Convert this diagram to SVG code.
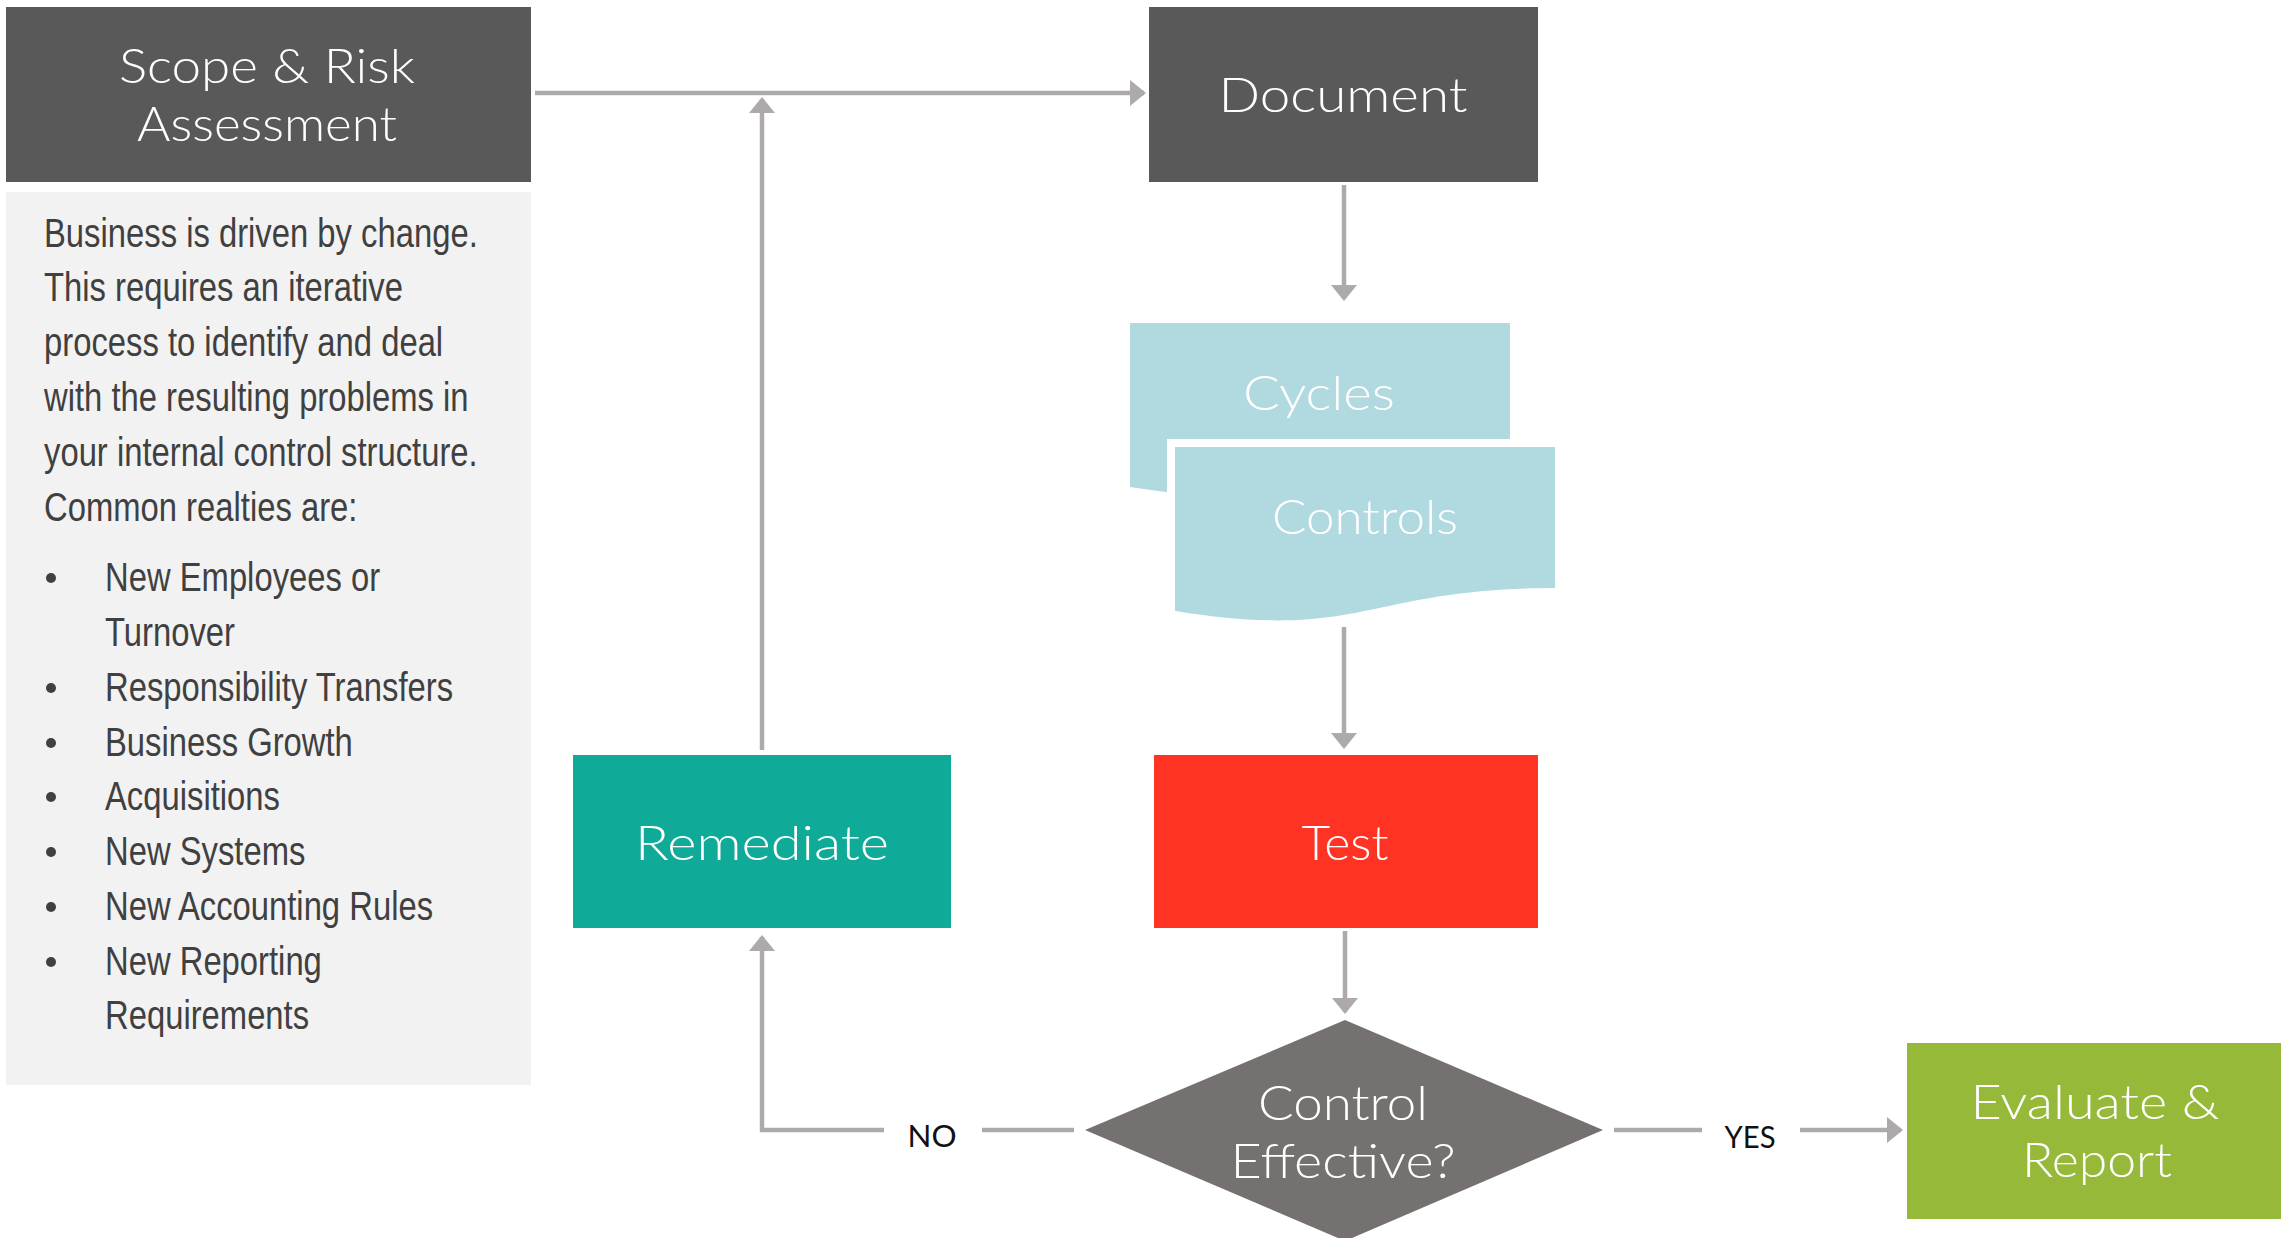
<svg xmlns="http://www.w3.org/2000/svg" width="2281" height="1238" viewBox="0 0 2281 1238">
<style>
.lbl{font-family:Lato,"Open Sans","Liberation Sans",sans-serif;font-weight:300;font-size:47px;fill:#fff;text-anchor:middle}
.dark{fill:#595959}
.con{stroke:#aeaaaa;stroke-width:4.5;fill:none}
.body{font-family:"Liberation Sans",Arial,sans-serif;font-size:40px;fill:#404040}
.yn{font-family:Lato,"Open Sans","Liberation Sans",sans-serif;font-size:30px;fill:#111;text-anchor:middle}
</style>
<defs>
<marker id="arr" markerUnits="userSpaceOnUse" markerWidth="16" markerHeight="26" refX="14" refY="13" orient="auto">
<path d="M0,0 L16,13 L0,26 Z" fill="#aeaaaa"/>
</marker>
</defs>
<rect width="2281" height="1238" fill="#fff"/>

<g id="connectors">
<path class="con" d="M535,93 H1144" marker-end="url(#arr)"/>
<path class="con" d="M762,750 V99" marker-end="url(#arr)"/>
<path class="con" d="M1344,185 V299" marker-end="url(#arr)"/>
<path class="con" d="M1344,627 V747" marker-end="url(#arr)"/>
<path class="con" d="M1345,931 V1012" marker-end="url(#arr)"/>
<path class="con" d="M1074,1130 H982"/>
<path class="con" d="M884,1130 H762 V937" marker-end="url(#arr)"/>
<path class="con" d="M1614,1130 H1702"/>
<path class="con" d="M1800,1130 H1901" marker-end="url(#arr)"/>
<text class="yn" x="932" y="1147" textLength="49" lengthAdjust="spacingAndGlyphs">NO</text>
<text class="yn" x="1750" y="1148" textLength="51" lengthAdjust="spacingAndGlyphs">YES</text>
</g>

<g id="scope">
<rect class="dark" x="6" y="7" width="525" height="175"/>
<text class="lbl" x="267" y="83" textLength="296" lengthAdjust="spacingAndGlyphs">Scope &amp; Risk</text>
<text class="lbl" x="267" y="141" textLength="260" lengthAdjust="spacingAndGlyphs">Assessment</text>
</g>

<g id="notes">
<rect x="6" y="192" width="525" height="893" fill="#f2f2f2"/>
<g transform="translate(44,0) scale(0.82,1)">
<text class="body" x="0" y="247">Business is driven by change.</text>
<text class="body" x="0" y="301">This requires an iterative</text>
<text class="body" x="0" y="356">process to identify and deal</text>
<text class="body" x="0" y="411">with the resulting problems in</text>
<text class="body" x="0" y="466">your internal control structure.</text>
<text class="body" x="0" y="521">Common realties are:</text>
</g>
<g fill="#404040">
<circle cx="51" cy="578" r="5"/>
<circle cx="51" cy="688" r="5"/>
<circle cx="51" cy="743" r="5"/>
<circle cx="51" cy="797" r="5"/>
<circle cx="51" cy="852" r="5"/>
<circle cx="51" cy="907" r="5"/>
<circle cx="51" cy="962" r="5"/>
</g>
<g transform="translate(105,0) scale(0.82,1)">
<text class="body" x="0" y="591">New Employees or</text>
<text class="body" x="0" y="646">Turnover</text>
<text class="body" x="0" y="701">Responsibility Transfers</text>
<text class="body" x="0" y="756">Business Growth</text>
<text class="body" x="0" y="810">Acquisitions</text>
<text class="body" x="0" y="865">New Systems</text>
<text class="body" x="0" y="920">New Accounting Rules</text>
<text class="body" x="0" y="975">New Reporting</text>
<text class="body" x="0" y="1029">Requirements</text>
</g>
</g>

<g id="document">
<rect class="dark" x="1149" y="7" width="389" height="175"/>
<text class="lbl" x="1343" y="112" textLength="249" lengthAdjust="spacingAndGlyphs">Document</text>
</g>

<g id="cycles-controls">
<path d="M1130,323 H1510 V464 C1320,464 1320,517.5 1130,487 Z" fill="#b0d9e0"/>
<path d="M1175,447 H1555 V588 C1365,588 1365,641.5 1175,611 Z" fill="#b0d9e0" stroke="#fff" stroke-width="16" paint-order="stroke"/>
<text class="lbl" x="1319" y="410" textLength="152" lengthAdjust="spacingAndGlyphs">Cycles</text>
<text class="lbl" x="1365" y="534" textLength="186" lengthAdjust="spacingAndGlyphs">Controls</text>
</g>

<g id="remediate">
<rect x="573" y="755" width="378" height="173" fill="#10aa99"/>
<text class="lbl" x="762" y="860" textLength="254" lengthAdjust="spacingAndGlyphs">Remediate</text>
</g>

<g id="test">
<rect x="1154" y="755" width="384" height="173" fill="#ff3324"/>
<text class="lbl" x="1345" y="860" textLength="87" lengthAdjust="spacingAndGlyphs">Test</text>
</g>

<g id="decision">
<polygon points="1345,1020 1603,1130 1345,1241 1085,1130" fill="#767171"/>
<text class="lbl" x="1343" y="1120" textLength="170" lengthAdjust="spacingAndGlyphs">Control</text>
<text class="lbl" x="1343" y="1178" textLength="225" lengthAdjust="spacingAndGlyphs">Effective?</text>
</g>

<g id="evaluate">
<rect x="1907" y="1043" width="374" height="176" fill="#97b93a"/>
<text class="lbl" x="2095" y="1119" textLength="249" lengthAdjust="spacingAndGlyphs">Evaluate &amp;</text>
<text class="lbl" x="2097" y="1177" textLength="150" lengthAdjust="spacingAndGlyphs">Report</text>
</g>
</svg>
